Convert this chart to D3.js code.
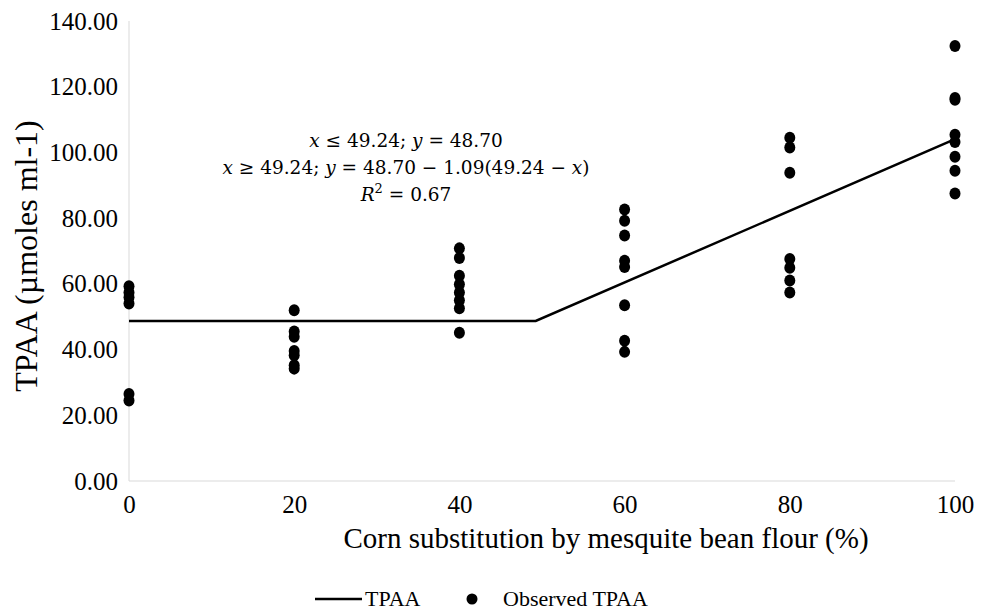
<!DOCTYPE html>
<html>
<head>
  <meta charset="utf-8">
  <script src="https://d3js.org/d3.v7.min.js"></script>
  <style>
    body { margin: 0; background: #fff; }
    svg text { font-family: "Liberation Serif", "Times New Roman", serif; fill: #000; }
    .axis path { stroke: #d9d9d9; stroke-width: 1px; }
    .axis line { display: none; }
  </style>
</head>
<body>
<div id="chart"></div>
<script>

// observed TPAA at each substitution level
var levels = [0, 20, 40, 60, 80, 100];
var obs0   = [59.3, 57.4, 55.9, 54.0, 26.5, 24.5];
var obs20  = [52.0, 45.5, 43.9, 39.6, 38.3, 35.2, 34.2];
var obs40  = [70.8, 67.9, 62.5, 59.9, 57.4, 55.0, 52.6, 45.1];
var obs60  = [82.6, 79.2, 74.7, 67.0, 65.1, 53.5, 42.7, 39.3];
var obs80  = [104.5, 101.5, 93.8, 67.6, 64.9, 61.0, 57.4];
var obs100 = [132.4, 116.6, 116.0, 105.4, 103.2, 98.7, 94.4, 87.5];

// broken-line model
var breakX = 49.24, plateau = 48.70, slope = 1.09;
var fitX = [0, breakX, 100];

var yTicks = [0, 20, 40, 60, 80, 100, 120, 140];

var serif = '"Liberation Serif", "Times New Roman", serif';

var margin = {top: 21, right: 29, bottom: 132, left: 129},
    width = 984 - margin.left - margin.right,
    height = 613 - margin.top - margin.bottom;

var svg = d3.select("#chart").append("svg")
    .attr("width", 984)
    .attr("height", 613)
  .append("g")
    .attr("transform", "translate(" + margin.left + "," + margin.top + ")");

var x = d3.scaleLinear().domain([0, 100]).range([0, width]);
var y = d3.scaleLinear().domain([0, 140]).range([height, 0]);

var xAxis = svg.append("g")
    .attr("class", "axis")
    .attr("transform", "translate(0," + height + ")")
    .call(d3.axisBottom(x).tickValues(levels).tickSize(0).tickPadding(14));
xAxis.select(".domain").attr("d", "M0,0H" + width);

var yAxis = svg.append("g")
    .attr("class", "axis")
    .call(d3.axisLeft(y).tickValues(yTicks).tickSize(0).tickPadding(11).tickFormat(d3.format(".2f")));
yAxis.select(".domain").attr("d", "M0,0V" + height);

svg.selectAll(".axis text")
    .style("font-family", serif)
    .style("font-size", "25px");

// axis titles
svg.append("text")
    .attr("x", 477)
    .attr("y", height + 67)
    .style("text-anchor", "middle")
    .style("font-family", serif)
    .style("font-size", "29px")
    .text("Corn substitution by mesquite bean flour (%)");

svg.append("text")
    .attr("transform", "rotate(-90)")
    .attr("x", -235)
    .attr("y", -margin.left + 37)
    .style("text-anchor", "middle")
    .style("font-family", serif)
    .style("font-size", "32px")
    .text("TPAA (µmoles ml-1)");

// fitted line
var fit = function(v) { return v <= breakX ? plateau : plateau - slope * (breakX - v); };
svg.append("path")
    .datum(fitX)
    .attr("fill", "none")
    .attr("stroke", "#000")
    .attr("stroke-width", 2.5)
    .attr("d", d3.line().x(function(d) { return x(d); }).y(function(d) { return y(fit(d)); }));

// observed points
var groups = [obs0, obs20, obs40, obs60, obs80, obs100];
var points = [];
groups.forEach(function(g, i) {
  g.forEach(function(v) { points.push({x: levels[i], v: v}); });
});

svg.selectAll(".dot")
    .data(points)
  .enter().append("ellipse")
    .attr("class", "dot")
    .attr("cx", function(d) { return x(d.x); })
    .attr("cy", function(d) { return y(d.v); })
    .attr("rx", 5.5)
    .attr("ry", 6)
    .attr("fill", "#000");

// equation
var eqX = 277;
var eq = svg.append("text")
    .attr("x", eqX)
    .attr("y", 126)
    .style("text-anchor", "middle")
    .style("font-family", '"DejaVu Serif", serif')
    .style("font-size", "18.5px");
var lines = [
  [["x", 1], [" ≤ 49.24; ", 0], ["y", 1], [" = 48.70", 0]],
  [["x", 1], [" ≥ 49.24; ", 0], ["y", 1], [" = 48.70 − 1.09(49.24 − ", 0], ["x", 1], [")", 0]],
  [["R", 1], ["2", 2], [" = 0.67", 0]]
];
lines.forEach(function(parts, i) {
  parts.forEach(function(p, j) {
    var t = eq.append("tspan").text(p[0]);
    if (j === 0) t.attr("x", eqX).attr("dy", i === 0 ? 0 : 27);
    if (p[1] === 1) t.style("font-style", "italic");
    if (p[1] === 2) t.attr("dy", -8).style("font-size", "13px");
    if (p[1] === 0 && j > 0 && parts[j - 1][1] === 2) t.attr("dy", 8);
  });
});

// legend
var lg = svg.append("g").attr("transform", "translate(" + (315 - margin.left) + "," + (599 - margin.top) + ")");
lg.append("line").attr("x1", 0).attr("x2", 47).attr("y1", 0).attr("y2", 0)
    .attr("stroke", "#000").attr("stroke-width", 2.5);
lg.append("text").attr("x", 50).attr("y", 7).style("font-family", serif).style("font-size", "22px").text("TPAA");
lg.append("circle").attr("cx", 157).attr("cy", 0).attr("r", 5.5).attr("fill", "#000");
lg.append("text").attr("x", 188).attr("y", 7).style("font-family", serif).style("font-size", "22px").text("Observed TPAA");

</script>
</body>
</html>
